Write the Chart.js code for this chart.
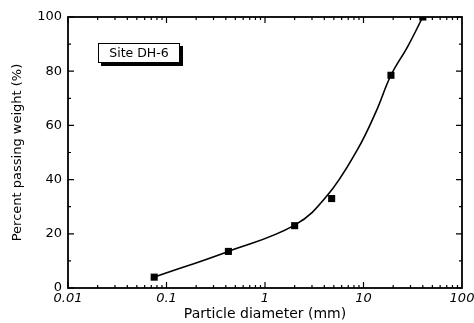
<!DOCTYPE html>
<html>
<head>
<meta charset="utf-8">
<script src="https://cdn.jsdelivr.net/npm/chart.js@4.4.0/dist/chart.umd.min.js"></script>
<style>
html,body{margin:0;padding:0;background:#fff;}
#wrap{width:474px;height:323px;position:relative;}
</style>
</head>
<body>
<div id="wrap"><canvas id="c" width="474" height="323"></canvas></div>
<script>
// Measured sieve points
const sieveSizes = [0.075, 0.425, 2, 4.75, 19, 40];
const percentPassing = [4, 13.5, 23, 33, 78.5, 100];
// Smooth gradation curve
const curveSizes = [0.075, 0.425, 2, 4.26, 8.65, 13.3, 19, 28, 40];
const curvePassing = [4, 13.5, 23.2, 34, 51, 64.8, 78.5, 89, 100];
// Tick labels
const xTickValues = [0.01, 0.1, 1, 10, 100];
const xTickLabels = ['0.01', '0.1', '1', '10', '100'];
const yTickValues = [0, 20, 40, 60, 80, 100];
const yMinorValues = [10, 30, 50, 70, 90];
const legendLabel = 'Site DH-6';

const FONT = 'DejaVu Sans';

const frameTicks = {
  id: 'frameTicks',
  afterDatasetsDraw(chart) {
    const ctx = chart.ctx;
    const a = chart.chartArea;
    const xs = chart.scales.x, ys = chart.scales.y;
    ctx.save();
    ctx.strokeStyle = '#000';
    ctx.lineWidth = 1.8;
    ctx.strokeRect(a.left, a.top, a.right - a.left, a.bottom - a.top);
    ctx.lineWidth = 1.2;
    ctx.beginPath();
    // x ticks (bottom and top, inward)
    for (let d = -2; d < 2; d++) {
      for (let m = 1; m <= 9; m++) {
        const v = m * Math.pow(10, d);
        const px = xs.getPixelForValue(v);
        const len = m === 1 ? 6 : 3;
        ctx.moveTo(px, a.bottom); ctx.lineTo(px, a.bottom - len);
        ctx.moveTo(px, a.top); ctx.lineTo(px, a.top + len);
      }
    }
    // y ticks (left and right, inward)
    yTickValues.forEach(v => {
      const py = ys.getPixelForValue(v);
      ctx.moveTo(a.left, py); ctx.lineTo(a.left + 6, py);
      ctx.moveTo(a.right, py); ctx.lineTo(a.right - 6, py);
    });
    yMinorValues.forEach(v => {
      const py = ys.getPixelForValue(v);
      ctx.moveTo(a.left, py); ctx.lineTo(a.left + 3, py);
      ctx.moveTo(a.right, py); ctx.lineTo(a.right - 3, py);
    });
    ctx.stroke();

    // legend box with drop shadow
    const bx = 98, by = 43, bw = 82, bh = 20;
    ctx.fillStyle = '#000';
    ctx.fillRect(bx + 3, by + 3, bw, bh);
    ctx.fillStyle = '#fff';
    ctx.fillRect(bx, by, bw, bh);
    ctx.lineWidth = 1;
    ctx.strokeRect(bx + 0.5, by + 0.5, bw - 1, bh - 1);
    ctx.fillStyle = '#000';
    ctx.font = '12.5px "' + FONT + '"';
    ctx.textAlign = 'center';
    ctx.textBaseline = 'middle';
    ctx.fillText(legendLabel, bx + bw / 2, by + bh / 2 + 0.5);
    ctx.restore();
  }
};

new Chart(document.getElementById('c'), {
  type: 'scatter',
  data: {
    datasets: [
      {
        data: curveSizes.map((x, i) => ({x: x, y: curvePassing[i]})),
        showLine: true,
        borderColor: '#000',
        borderWidth: 1.6,
        pointRadius: 0,
        tension: 0.4,
        fill: false
      },
      {
        data: sieveSizes.map((x, i) => ({x: x, y: percentPassing[i]})),
        showLine: false,
        pointStyle: 'rect',
        pointRadius: 5,
        backgroundColor: '#000',
        borderColor: '#000',
        borderWidth: 0
      }
    ]
  },
  options: {
    responsive: false,
    animation: false,
    devicePixelRatio: 1,
    layout: {padding: {left: 0, right: 12, top: 17, bottom: 0}},
    plugins: {legend: {display: false}, tooltip: {enabled: false}},
    scales: {
      x: {
        type: 'logarithmic',
        min: 0.01, max: 100,
        grid: {display: false, drawTicks: false},
        border: {display: false},
        afterBuildTicks(s) { s.ticks = xTickValues.map(v => ({value: v})); },
        afterFit(s) { s.height = 35; s.paddingLeft = 0; s.paddingRight = 0; },
        ticks: {
          autoSkip: false, maxRotation: 0, padding: 3,
          color: '#000',
          font: {family: FONT, size: 13, style: 'italic'},
          callback: (v, i) => xTickLabels[xTickValues.indexOf(v)] ?? ''
        },
        title: {
          display: true, text: 'Particle diameter (mm)', color: '#000',
          font: {family: FONT, size: 14}, padding: {top: 0, bottom: 0}
        }
      },
      y: {
        type: 'linear',
        min: 0, max: 100,
        grid: {display: false, drawTicks: false},
        border: {display: false},
        afterBuildTicks(s) { s.ticks = yTickValues.map(v => ({value: v})); },
        afterFit(s) { s.width = 68; s.paddingTop = 0; s.paddingBottom = 0; },
        ticks: {
          padding: 6, color: '#000',
          font: {family: FONT, size: 13},
          callback: v => String(v)
        },
        title: {
          display: true, text: 'Percent passing weight (%)', color: '#000',
          font: {family: FONT, size: 13}, padding: {top: 10, bottom: 0}
        }
      }
    }
  },
  plugins: [frameTicks]
});
</script>
</body>
</html>
